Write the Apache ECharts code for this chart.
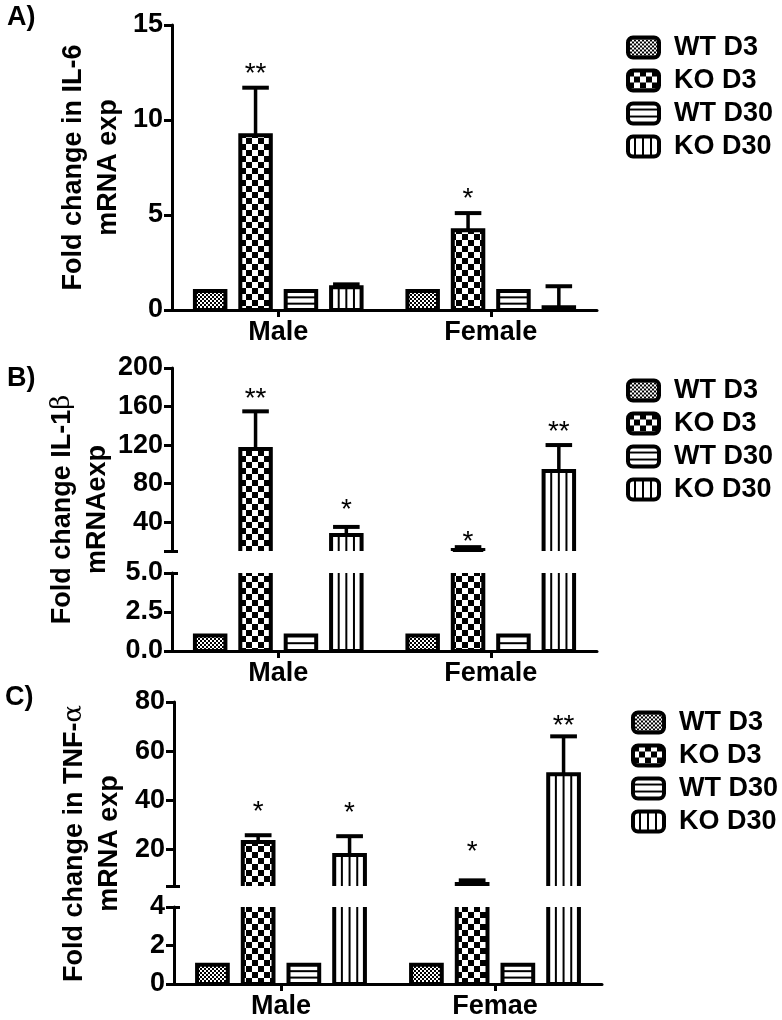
<!DOCTYPE html>
<html><head><meta charset="utf-8">
<script src="https://cdn.jsdelivr.net/npm/echarts@6/dist/echarts.min.js"></script>
<style>html,body{margin:0;padding:0;background:#fff}#c{width:782px;height:1020px}</style>
</head><body><div id="c"></div>
<script>
// ---------------- data ----------------
const groups = ['WT D3', 'KO D3', 'WT D30', 'KO D30'];
const sexA = ['Male', 'Female'];
const sexB = ['Male', 'Female'];
const sexC = ['Male', 'Femae'];

// Panel A – IL-6 (rows: groups, cols: sex)
const il6Mean = [[1.0, 1.0], [9.2, 4.2], [1.0, 1.0], [1.2, 0.15]];
const il6Sem = [[0, 0], [2.5, 0.9], [0, 0], [0.15, 1.1]];
const il6Sig = [['', ''], ['**', '*'], ['', ''], ['', '']];
const il6SigAt = [[0, 0], [12.8, 6.2], [0, 0], [0, 0]];
const il6Ticks = [0, 5, 10, 15];

// Panel B – IL-1β
const il1bMean = [[1.0, 1.0], [116, 11], [1.0, 1.0], [26.5, 93]];
const il1bSem = [[0, 0], [39, 3], [0, 0], [8.5, 27]];
const il1bSig = [['', ''], ['**', '*'], ['', ''], ['*', '**']];
const il1bSigAt = [[0, 0], [175, 26.5], [0, 0], [59.7, 140.8]];
const il1bTicksHigh = [40, 80, 120, 160, 200];
const il1bTicksLow = [0, 2.5, 5];

// Panel C – TNF-α
const tnfMean = [[1.0, 1.0], [22.9, 5.8], [1.0, 1.0], [17.6, 50.6]];
const tnfSem = [[0, 0], [2.8, 1.5], [0, 0], [7.7, 15.4]];
const tnfSig = [['', ''], ['*', '*'], ['', ''], ['*', '**']];
const tnfSigAt = [[0, 0], [38, 21.6], [0, 0], [37.6, 73]];
const tnfTicksHigh = [20, 40, 60, 80];
const tnfTicksLow = [0, 2, 4];

// ---------------- patterns ----------------
function mkCanvas(w, h, draw) {
  const c = document.createElement('canvas'); c.width = w; c.height = h;
  const g = c.getContext('2d'); g.fillStyle = '#fff'; g.fillRect(0, 0, w, h); g.fillStyle = '#000'; draw(g); return c;
}
const fineC = mkCanvas(4, 4, g => { g.fillRect(0, 0, 2, 2); g.fillRect(2, 2, 2, 2); });
const coarseC = mkCanvas(12, 12, g => { g.fillRect(0, 0, 6, 6); g.fillRect(6, 6, 6, 6); });
const hC = mkCanvas(7, 7, g => { g.fillRect(0, 5, 7, 2); });
const vC = mkCanvas(8, 8, g => { g.fillRect(6, 0, 2, 8); });
const pat = c => ({ image: c, repeat: 'repeat' });
const BAR_FILL = [pat(fineC), pat(coarseC), '#fff', '#fff'];
const LEG_FILL = [pat(fineC), pat(coarseC), pat(hC), pat(vC)];

// ---------------- layout helpers ----------------
const FONT = "'Liberation Sans', Arial, Helvetica, sans-serif";
const FS = 27;
const STEP = 0.2136, BARW = 0.1435, CAPW = 0.125, LW = 4;

function makeRender(P, gIdx) {
  return function (params, api) {
    const ci = api.value(0);
    const v = P.mean[gIdx][ci], sem = P.sem[gIdx][ci];
    const sig = P.sig[gIdx][ci], sigAt = P.sigAt[gIdx][ci];
    const cs = params.coordSys;
    const top = cs.y, bot = cs.y + cs.height;
    const base = api.coord([ci, 0]);
    const band = api.size([1, 0])[0];
    const xc = base[0] + (gIdx - 1.5) * band * STEP;
    const w = band * BARW, x0 = xc - w / 2, x1 = xc + w / 2;
    const yTop = api.coord([ci, v])[1];
    const yBase = base[1];
    const ya = Math.max(yTop, top), yb = Math.min(yBase, bot);
    const kids = [];
    const stroke = { stroke: '#000', lineWidth: LW, fill: null, lineJoin: 'miter' };
    if (yTop <= bot + 0.5) {
      const topVis = yTop >= top - 0.5;
      const botVis = yBase <= bot + 0.5;
      kids.push({ type: 'rect', shape: { x: x0, y: ya, width: w, height: Math.max(0, yb - ya) }, style: { fill: BAR_FILL[gIdx] } });
      if (gIdx === 2) {
        const h = yb - ya, n = Math.round(h / 6.5);
        for (let k = 1; k < n; k++) kids.push({ type: 'line', shape: { x1: x0, y1: ya + h * k / n, x2: x1, y2: ya + h * k / n }, style: { stroke: '#000', lineWidth: 2 } });
      }
      if (gIdx === 3) {
        const n = Math.round(w / 7.7);
        for (let k = 1; k < n; k++) kids.push({ type: 'line', shape: { x1: x0 + w * k / n, y1: ya, x2: x0 + w * k / n, y2: yb }, style: { stroke: '#000', lineWidth: 2 } });
      }
      if (topVis && botVis) kids.push({ type: 'polygon', shape: { points: [[x0, yb], [x0, ya], [x1, ya], [x1, yb]] }, style: stroke });
      else if (topVis) kids.push({ type: 'polyline', shape: { points: [[x0, yb], [x0, ya], [x1, ya], [x1, yb]] }, style: stroke });
      else if (botVis) kids.push({ type: 'polyline', shape: { points: [[x0, ya], [x0, yb], [x1, yb], [x1, ya]] }, style: stroke });
      else {
        kids.push({ type: 'line', shape: { x1: x0, y1: ya, x2: x0, y2: yb }, style: stroke });
        kids.push({ type: 'line', shape: { x1: x1, y1: ya, x2: x1, y2: yb }, style: stroke });
      }
      if (topVis && sem > 0) {
        const yE = api.coord([ci, v + sem])[1];
        if (yE >= top - 1) {
          const cw = band * CAPW;
          kids.push({ type: 'line', shape: { x1: xc, y1: yTop, x2: xc, y2: yE }, style: { stroke: '#000', lineWidth: 3.5 } });
          kids.push({ type: 'line', shape: { x1: xc - cw / 2, y1: yE, x2: xc + cw / 2, y2: yE }, style: { stroke: '#000', lineWidth: 4 } });
        }
      }
    }
    if (sig) {
      const yS = api.coord([ci, sigAt])[1];
      if (yS >= top - 12 && yS <= bot) {
        kids.push({ type: 'text', x: xc, y: yS + 7, style: { text: sig, fill: '#000', font: '28px ' + FONT, align: 'center', verticalAlign: 'middle' } });
      }
    }
    return { type: 'group', children: kids };
  };
}

const grids = [], xAxes = [], yAxes = [], series = [];
const axisLine = { show: true, lineStyle: { color: '#000', width: 3 } };
const labelStyle = { color: '#000', fontSize: FS, fontWeight: 'bold', fontFamily: FONT };
const nameStyle = {
  color: '#000', fontSize: FS, fontWeight: 'bold', fontFamily: FONT, lineHeight: 35,
  rich: { g: { color: '#000', fontSize: 26, fontWeight: 'normal', fontFamily: "'DejaVu Serif', serif", lineHeight: 35 } }
};

function addSegment(P, seg) {
  grids.push({ left: P.left, width: P.width, top: seg.top, height: seg.height, containLabel: false });
  const gi = grids.length - 1;
  xAxes.push({
    gridIndex: gi, type: 'category', data: P.cats, show: !!seg.showX,
    axisLine: axisLine,
    axisTick: { show: true, alignWithLabel: true, length: 7, lineStyle: { color: '#000', width: 3 } },
    axisLabel: Object.assign({ interval: 0, margin: 9 }, labelStyle)
  });
  const xi = xAxes.length - 1;
  const y = {
    gridIndex: gi, type: 'value', min: seg.min, max: seg.max,
    axisLine: axisLine, splitLine: { show: false },
    axisTick: { show: true, length: 8, lineStyle: { color: '#000', width: 3 }, customValues: seg.tickVals },
    axisLabel: Object.assign({ margin: 9, customValues: seg.ticks, formatter: seg.fmt || (v => String(v)) }, labelStyle)
  };
  if (seg.name) Object.assign(y, { name: seg.name, nameLocation: 'middle', nameGap: seg.nameGap, nameTextStyle: nameStyle, nameMoveOverlap: false });
  yAxes.push(y);
  const yi = yAxes.length - 1;
  if (seg.breakAt != null) {
    yAxes.push({
      gridIndex: gi, type: 'value', min: seg.min, max: seg.max, position: 'left',
      axisLine: { show: false }, splitLine: { show: false }, axisLabel: { show: false },
      axisTick: { show: true, inside: true, length: 6, lineStyle: { color: '#000', width: 3 }, customValues: [seg.breakAt] }
    });
  }
  groups.forEach((grp, gIdx) => {
    series.push({
      type: 'custom', name: grp, xAxisIndex: xi, yAxisIndex: yi, silent: true,
      renderItem: makeRender(P, gIdx),
      itemStyle: { color: LEG_FILL[gIdx], borderColor: '#000', borderWidth: LW },
      data: P.mean[gIdx].map((v, ci) => [ci, v])
    });
  });
}

function addFrame(P, top, height, name, gap) {
  grids.push({ left: P.left, width: P.width, top: top, height: height });
  const gi = grids.length - 1;
  xAxes.push({ gridIndex: gi, type: 'category', data: P.cats, show: false });
  yAxes.push({
    gridIndex: gi, type: 'value', min: 0, max: 1, axisLine: { show: false }, axisTick: { show: false },
    axisLabel: { show: false }, splitLine: { show: false },
    name: name, nameLocation: 'middle', nameGap: gap, nameTextStyle: nameStyle, nameMoveOverlap: false
  });
}

const PA = { cats: sexA, mean: il6Mean, sem: il6Sem, sig: il6Sig, sigAt: il6SigAt, left: 172, width: 425 };
const PB = { cats: sexB, mean: il1bMean, sem: il1bSem, sig: il1bSig, sigAt: il1bSigAt, left: 172, width: 425 };
const PC = { cats: sexC, mean: tnfMean, sem: tnfSem, sig: tnfSig, sigAt: tnfSigAt, left: 174, width: 428 };

addSegment(PA, { top: 25, height: 285, min: 0, max: 15, ticks: il6Ticks, tickVals: il6Ticks, showX: true,
  name: 'Fold change in IL-6\nmRNA exp', nameGap: 46 });
addSegment(PB, { top: 368, height: 183, min: 10, max: 200, ticks: il1bTicksHigh, tickVals: [10].concat(il1bTicksHigh), breakAt: 10 });
addSegment(PB, { top: 573, height: 78, min: 0, max: 5, ticks: il1bTicksLow, tickVals: il1bTicksLow, showX: true, breakAt: 5,
  fmt: v => v.toFixed(1) });
addFrame(PB, 368, 283, 'Fold change IL-1{g|β}\nmRNAexp', 57);
addSegment(PC, { top: 702, height: 184, min: 5, max: 80, ticks: tnfTicksHigh, tickVals: [5].concat(tnfTicksHigh), breakAt: 5 });
addSegment(PC, { top: 907, height: 78, min: 0, max: 4, ticks: tnfTicksLow, tickVals: tnfTicksLow, showX: true, breakAt: 4 });
addFrame(PC, 702, 283, 'Fold change in TNF-{g|α}\nmRNA exp', 47);

function legendAt(left, top) {
  return {
    orient: 'vertical', left: left, top: top, padding: 0, itemWidth: 31, itemHeight: 20, itemGap: 6,
    selectedMode: false, icon: 'roundRect',
    itemStyle: { borderColor: '#000', borderWidth: LW },
    textStyle: { color: '#000', fontSize: FS, fontWeight: 'bold', fontFamily: FONT, padding: [0, 0, 0, 10] },
    data: groups.map((g, i) => ({ name: g, itemStyle: { color: LEG_FILL[i], borderColor: '#000', borderWidth: LW } }))
  };
}

const titleStyle = { color: '#000', fontSize: FS, fontWeight: 'bold', fontFamily: FONT };
const option = {
  animation: false,
  backgroundColor: '#fff',
  title: [
    { text: 'A)', left: 2, top: -1, textStyle: titleStyle },
    { text: 'B)', left: 2, top: 360, textStyle: titleStyle },
    { text: 'C)', left: 0, top: 679, textStyle: titleStyle }
  ],
  legend: [legendAt(626, 34), legendAt(626, 377), legendAt(631, 709)],
  grid: grids, xAxis: xAxes, yAxis: yAxes, series: series
};
const chart = echarts.init(document.getElementById('c'), null, { renderer: 'canvas' });
chart.setOption(option);
</script></body></html>
